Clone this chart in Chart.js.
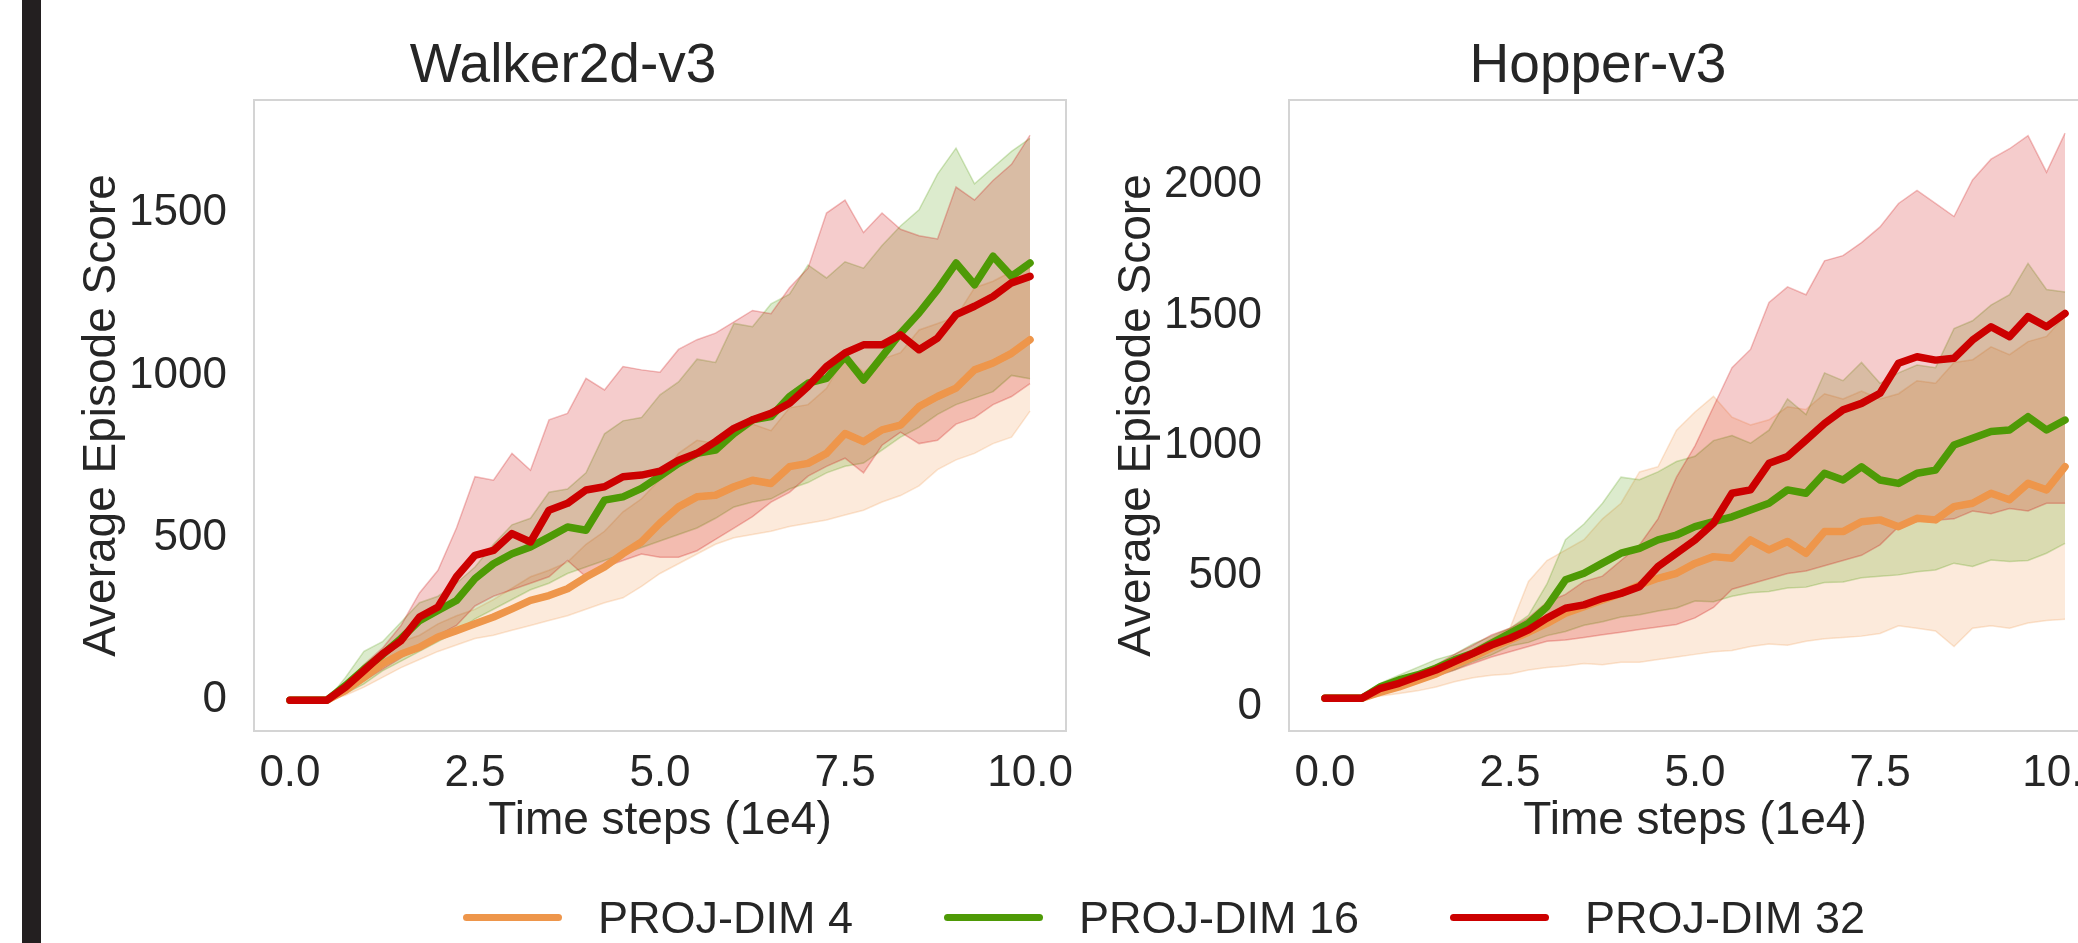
<!DOCTYPE html>
<html>
<head>
<meta charset="utf-8">
<script src="https://cdn.jsdelivr.net/npm/chart.js@4.4.1/dist/chart.umd.min.js"></script>
<style>
    html, body { margin: 0; padding: 0; background: #fff; width: 2078px; height: 943px; overflow: hidden; position: relative; font-family: 'Liberation Sans', Arial, sans-serif; }
    .side-bar { position: absolute; left: 22px; top: 0; width: 19px; height: 943px; background: #231f20; }
    canvas { position: absolute; top: 0; }
    #legend { position: absolute; left: 463px; top: 895px; display: flex; align-items: center; font-size: 45px; line-height: 45px; color: #262626; white-space: nowrap; }
    .legend-item { display: flex; align-items: center; margin-right: 91px; }
    .legend-swatch { width: 99px; height: 7px; border-radius: 4px; margin-right: 36px; }
</style>
</head>
<body>
<div class="side-bar"></div>
<canvas id="walkerChart" width="1100" height="943" style="left:0px"></canvas>
<canvas id="hopperChart" width="1100" height="943" style="left:1035px"></canvas>
<div id="legend"></div>
<script>
// Time steps (1e4)
const timeSteps = [0, 0.25, 0.5, 0.75, 1, 1.25, 1.5, 1.75, 2, 2.25, 2.5, 2.75, 3, 3.25, 3.5, 3.75, 4, 4.25, 4.5, 4.75, 5,
    5.25, 5.5, 5.75, 6, 6.25, 6.5, 6.75, 7, 7.25, 7.5, 7.75, 8, 8.25, 8.5, 8.75, 9, 9.25, 9.5, 9.75, 10];

const seriesLabels = ['PROJ-DIM 4', 'PROJ-DIM 16', 'PROJ-DIM 32'];
const seriesColors = ['#EE964B', '#4E9A06', '#CC0000'];

const xTicks = [0, 2.5, 5, 7.5, 10];
const walkerYTicks = [0, 500, 1000, 1500];
const hopperYTicks = [0, 500, 1000, 1500, 2000];

// Walker2d-v3
const walkerDim4Mean = [0, 0, 0, 30, 70, 112, 142, 163, 194, 214, 235, 256, 281, 307, 322, 343, 379, 410, 451, 487, 545,
    595, 626, 631, 657, 677, 667, 719, 729, 760, 821, 796, 832, 847, 904, 935, 961, 1017, 1038, 1068, 1110];
const walkerDim4Low = [0, 0, 0, 15, 40, 70, 100, 125, 150, 170, 190, 200, 215, 230, 245, 260, 280, 300, 315, 350, 390,
    420, 450, 480, 500, 510, 520, 535, 545, 555, 570, 585, 610, 630, 660, 710, 740, 760, 790, 810, 890];
const walkerDim4High = [0, 0, 0, 45, 100, 150, 180, 200, 235, 260, 280, 310, 345, 380, 400, 425, 480, 520, 580, 620, 680,
    760, 800, 790, 810, 850, 830, 900, 910, 960, 1060, 1010, 1050, 1070, 1140, 1160, 1180, 1270, 1290, 1320, 1330];

const walkerDim16Mean = [0, 0, 0, 45, 95, 140, 190, 245, 276, 307, 374, 420, 451, 472, 502, 533, 523, 616, 626, 652, 690,
    729, 760, 770, 821, 863, 873, 935, 976, 991, 1058, 986, 1058, 1130, 1192, 1264, 1346, 1279, 1367, 1305, 1346];
const walkerDim16Low = [0, 0, 0, 20, 50, 90, 120, 150, 180, 210, 250, 280, 310, 340, 360, 390, 410, 430, 450, 470, 490,
    510, 530, 560, 595, 610, 620, 650, 670, 700, 720, 730, 770, 810, 840, 880, 910, 930, 950, 1000, 990];
const walkerDim16High = [0, 0, 0, 70, 150, 180, 240, 300, 320, 360, 410, 480, 540, 560, 640, 650, 700, 820, 860, 870, 940,
    980, 1050, 1040, 1160, 1150, 1220, 1250, 1340, 1300, 1350, 1330, 1400, 1460, 1510, 1620, 1700, 1590, 1640, 1690, 1730];

const walkerDim32Mean = [0, 0, 0, 40, 91, 142, 183, 256, 287, 380, 446, 461, 513, 487, 585, 606, 647, 657, 688, 693, 705,
    739, 760, 796, 837, 863, 883, 914, 966, 1027, 1069, 1094, 1094, 1125, 1079, 1115, 1187, 1213, 1243, 1285, 1305];
const walkerDim32Low = [0, 0, 0, 25, 60, 95, 130, 165, 200, 230, 290, 320, 340, 360, 380, 430, 380, 410, 430, 450, 440,
    440, 460, 495, 530, 565, 610, 640, 690, 720, 745, 700, 785, 825, 790, 800, 850, 870, 910, 935, 975];
const walkerDim32High = [0, 0, 0, 50, 110, 160, 230, 330, 400, 530, 688, 677, 760, 708, 863, 883, 991, 955, 1027, 1017, 1010,
    1080, 1110, 1130, 1165, 1200, 1190, 1270, 1330, 1500, 1540, 1440, 1500, 1450, 1430, 1420, 1580, 1540, 1600, 1650, 1740];

// Hopper-v3
const hopperDim4Mean = [32, 32, 32, 55, 75, 100, 125, 160, 190, 225, 255, 285, 319, 358, 383, 409, 434, 466, 492, 511, 549,
    575, 569, 639, 601, 633, 588, 671, 671, 709, 716, 690, 722, 716, 767, 780, 818, 793, 856, 831, 920];
const hopperDim4Low = [32, 32, 32, 40, 50, 60, 75, 95, 110, 120, 125, 140, 150, 155, 165, 160, 170, 170, 180, 190, 200,
    210, 215, 230, 240, 235, 250, 260, 265, 270, 280, 310, 300, 290, 230, 300, 310, 300, 320, 330, 335];
const hopperDim4High = [32, 32, 32, 70, 95, 120, 150, 185, 220, 260, 300, 480, 560, 600, 640, 720, 780, 900, 920, 1060, 1130,
    1190, 1110, 1080, 1100, 1150, 1140, 1200, 1180, 1210, 1180, 1200, 1250, 1240, 1320, 1330, 1380, 1350, 1400, 1420, 1500];

const hopperDim16Mean = [32, 32, 32, 76, 102, 121, 147, 179, 204, 243, 281, 319, 383, 486, 511, 550, 588, 607, 639, 658, 690,
    709, 728, 754, 780, 831, 818, 895, 869, 920, 869, 856, 895, 907, 1003, 1029, 1055, 1061, 1112, 1061, 1099];
const hopperDim16Low = [32, 32, 32, 60, 82, 92, 118, 140, 172, 198, 232, 246, 272, 288, 312, 325, 343, 352, 366, 378, 405,
    402, 423, 436, 441, 455, 458, 476, 478, 494, 500, 505, 517, 524, 550, 537, 562, 556, 560, 588, 626];
const hopperDim16High = [32, 32, 32, 90, 120, 150, 180, 200, 240, 270, 300, 350, 470, 640, 700, 780, 880, 870, 900, 940, 960,
    1020, 1040, 1010, 1060, 1180, 1120, 1280, 1250, 1320, 1240, 1280, 1310, 1300, 1450, 1480, 1540, 1580, 1700, 1600, 1590];

const hopperDim32Mean = [32, 32, 32, 70, 89, 115, 140, 172, 204, 236, 262, 294, 339, 377, 390, 415, 434, 460, 537, 588, 639,
    703, 818, 831, 933, 959, 1022, 1086, 1138, 1163, 1202, 1317, 1342, 1329, 1336, 1406, 1457, 1419, 1496, 1457, 1508];
const hopperDim32Low = [32, 32, 32, 60, 75, 95, 115, 140, 165, 190, 210, 230, 250, 255, 265, 275, 285, 295, 305, 315, 340,
    380, 450, 470, 490, 510, 520, 540, 560, 580, 620, 690, 710, 715, 720, 750, 740, 760, 750, 780, 780];
const hopperDim32High = [32, 32, 32, 80, 100, 130, 160, 200, 235, 275, 300, 340, 400, 430, 480, 500, 560, 620, 720, 880, 1000,
    1150, 1300, 1370, 1550, 1610, 1580, 1710, 1730, 1780, 1840, 1930, 1980, 1930, 1880, 2020, 2100, 2140, 2190, 2050, 2200];

Chart.defaults.font.family = "'Liberation Sans', Arial, sans-serif";
Chart.defaults.color = '#262626';

function withAlpha(hex, a) {
    const n = parseInt(hex.slice(1), 16);
    return `rgba(${(n >> 16) & 255}, ${(n >> 8) & 255}, ${n & 255}, ${a})`;
}

function toPoints(values) {
    return values.map((v, i) => ({ x: timeSteps[i], y: v }));
}

// light grey frame around the plot area
const framePlugin = {
    id: 'frame',
    afterDatasetsDraw(chart) {
        const { ctx, chartArea: a } = chart;
        ctx.save();
        ctx.strokeStyle = '#d4d4d4';
        ctx.lineWidth = 2;
        ctx.strokeRect(a.left, a.top, a.right - a.left, a.bottom - a.top);
        ctx.restore();
    }
};

function makeChart(canvasId, title, yTicks, yMin, yMax, runs) {
    const datasets = [];
    // bands first (drawn underneath), one pair of datasets per run
    runs.forEach((run, i) => {
        const color = seriesColors[i];
        datasets.push({
            data: toPoints(run.low),
            borderColor: withAlpha(color, 0.25),
            borderWidth: 1.5,
            pointRadius: 0,
            fill: false,
            order: 30 - i * 10
        });
        datasets.push({
            data: toPoints(run.high),
            borderColor: withAlpha(color, 0.25),
            borderWidth: 1.5,
            pointRadius: 0,
            backgroundColor: withAlpha(color, 0.2),
            fill: { target: '-1', above: withAlpha(color, 0.2), below: withAlpha(color, 0.2) },
            order: 30 - i * 10
        });
    });
    runs.forEach((run, i) => {
        datasets.push({
            label: seriesLabels[i],
            data: toPoints(run.mean),
            borderColor: seriesColors[i],
            borderWidth: 7.5,
            borderCapStyle: 'round',
            borderJoinStyle: 'round',
            pointRadius: 0,
            fill: false,
            order: 3 - i
        });
    });

    return new Chart(document.getElementById(canvasId), {
        type: 'line',
        data: { datasets: datasets },
        options: {
            responsive: false,
            animation: false,
            devicePixelRatio: 1,
            layout: { padding: { left: 60, right: 34, top: 0, bottom: 83 } },
            elements: { line: { tension: 0 } },
            plugins: {
                legend: { display: false },
                tooltip: { enabled: false },
                title: {
                    display: true,
                    text: title,
                    color: '#262626',
                    font: { size: 55, weight: 'normal', lineHeight: 1.2 },
                    padding: { top: 34, bottom: 0 }
                }
            },
            scales: {
                x: {
                    type: 'linear',
                    min: -0.486,
                    max: 10.486,
                    grid: { display: false },
                    border: { display: false },
                    afterBuildTicks: scale => { scale.ticks = xTicks.map(v => ({ value: v })); },
                    afterFit: scale => { scale.height = 129; },
                    ticks: {
                        padding: 8,
                        autoSkip: false,
                        maxRotation: 0,
                        font: { size: 44 },
                        callback: v => Number(v).toFixed(1)
                    },
                    title: {
                        display: true,
                        text: 'Time steps (1e4)',
                        font: { size: 46 },
                        padding: { top: 0, bottom: 11 }
                    }
                },
                y: {
                    min: yMin,
                    max: yMax,
                    grid: { display: false },
                    border: { display: false },
                    afterBuildTicks: scale => { scale.ticks = yTicks.map(v => ({ value: v })); },
                    afterFit: scale => { scale.width = 194; },
                    ticks: {
                        padding: 19,
                        font: { size: 44 },
                        callback: v => String(v)
                    },
                    title: {
                        display: true,
                        text: 'Average Episode Score',
                        font: { size: 46 },
                        padding: { top: 15, bottom: 0 }
                    }
                }
            }
        },
        plugins: [framePlugin]
    });
}

makeChart('walkerChart', 'Walker2d-v3', walkerYTicks, -95, 1848, [
    { mean: walkerDim4Mean, low: walkerDim4Low, high: walkerDim4High },
    { mean: walkerDim16Mean, low: walkerDim16Low, high: walkerDim16High },
    { mean: walkerDim32Mean, low: walkerDim32Low, high: walkerDim32High }
]);

makeChart('hopperChart', 'Hopper-v3', hopperYTicks, -94, 2327, [
    { mean: hopperDim4Mean, low: hopperDim4Low, high: hopperDim4High },
    { mean: hopperDim16Mean, low: hopperDim16Low, high: hopperDim16High },
    { mean: hopperDim32Mean, low: hopperDim32Low, high: hopperDim32High }
]);

// Shared legend under both panels
const legendEl = document.getElementById('legend');
seriesLabels.forEach((label, i) => {
    const item = document.createElement('div');
    item.className = 'legend-item';
    const swatch = document.createElement('span');
    swatch.className = 'legend-swatch';
    swatch.style.background = seriesColors[i];
    const text = document.createElement('span');
    text.textContent = label;
    item.appendChild(swatch);
    item.appendChild(text);
    legendEl.appendChild(item);
});
</script>
</body>
</html>
